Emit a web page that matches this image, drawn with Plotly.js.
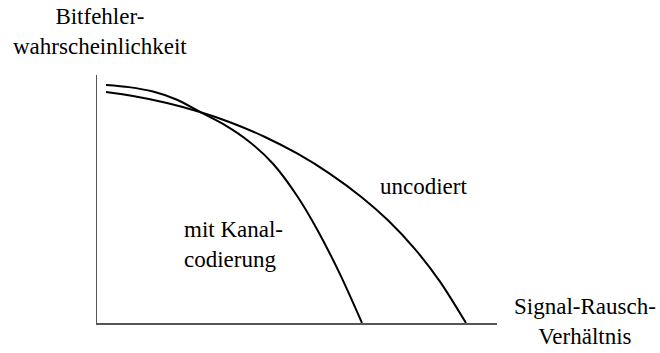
<!DOCTYPE html>
<html>
<head>
<meta charset="utf-8">
<script src="https://cdn.plot.ly/plotly-3.0.1.min.js"></script>
<style>
  body { margin: 0; background: #fff; }
  #graph { width: 660px; height: 353px; }
</style>
</head>
<body>
<div id="graph"></div>
<script>
// curve values (arbitrary units, 0..10 on both axes)
var snrKanal = [0.225, 0.8, 1.4, 2.0, 2.575, 3.2, 3.8, 4.4, 5.0, 5.5, 6.075, 6.625];
var berKanal = [9.597, 9.511, 9.331, 9.001, 8.512, 7.981, 7.321, 6.421, 5.131, 3.781, 1.970, 0.0];

var snrUncod = [0.225, 0.9, 1.75, 2.575, 3.325, 4.2, 5.025, 5.825, 6.625, 7.275, 7.95, 8.575, 9.225];
var berUncod = [9.315, 9.153, 8.872, 8.509, 8.096, 7.501, 6.816, 6.016, 5.064, 4.141, 2.980, 1.667, 0.0];

var labelTexts = ["Bitfehler-<br>wahrscheinlichkeit", "Signal-Rausch-<br>Verhältnis",
                  "mit Kanal-<br>codierung", "uncodiert"];

function drawGraph() {
    var lineStyle = {color: "black", width: 2, shape: "spline", smoothing: 0.8};

    var kanal = {
        x: snrKanal,
        y: berKanal,
        type: "scatter",
        mode: "lines",
        line: lineStyle,
        hoverinfo: "skip"
    };
    var uncod = {
        x: snrUncod,
        y: berUncod,
        type: "scatter",
        mode: "lines",
        line: lineStyle,
        hoverinfo: "skip"
    };

    var serif = "Liberation Serif, Times New Roman, serif";
    var txtFont = {family: serif, size: 23, color: "black"};

    var layout = {
        width: 660,
        height: 353,
        margin: {l: 97, r: 163, t: 75, b: 30},
        font: {family: serif, size: 23, color: "black"},
        paper_bgcolor: "white",
        plot_bgcolor: "white",
        showlegend: false,
        xaxis: {
            range: [0, 10],
            showline: true, linecolor: "#555", linewidth: 1.5,
            showgrid: false, zeroline: false, showticklabels: false, ticks: ""
        },
        yaxis: {
            range: [0, 10],
            showline: true, linecolor: "#555", linewidth: 1.5,
            showgrid: false, zeroline: false, showticklabels: false, ticks: ""
        },
        annotations: [
            // axis labels sit outside the plot area, so place them in paper units
            {xref: "paper", yref: "paper", x: 0.0075, y: 1.177, text: labelTexts[0],
             showarrow: false, font: txtFont, xanchor: "center", yanchor: "middle"},
            {xref: "paper", yref: "paper", x: 1.22, y: 0.008, text: labelTexts[1],
             showarrow: false, font: txtFont, xanchor: "center", yanchor: "middle"},
            {x: 2.125, y: 3.15, text: labelTexts[2], showarrow: false, font: txtFont,
             xanchor: "left", yanchor: "middle", align: "left"},
            {x: 8.15, y: 5.52, text: labelTexts[3], showarrow: false, font: txtFont,
             xanchor: "center", yanchor: "middle"}
        ]
    };

    Plotly.newPlot("graph", [kanal, uncod], layout, {staticPlot: true});
}

drawGraph();
</script>
</body>
</html>
